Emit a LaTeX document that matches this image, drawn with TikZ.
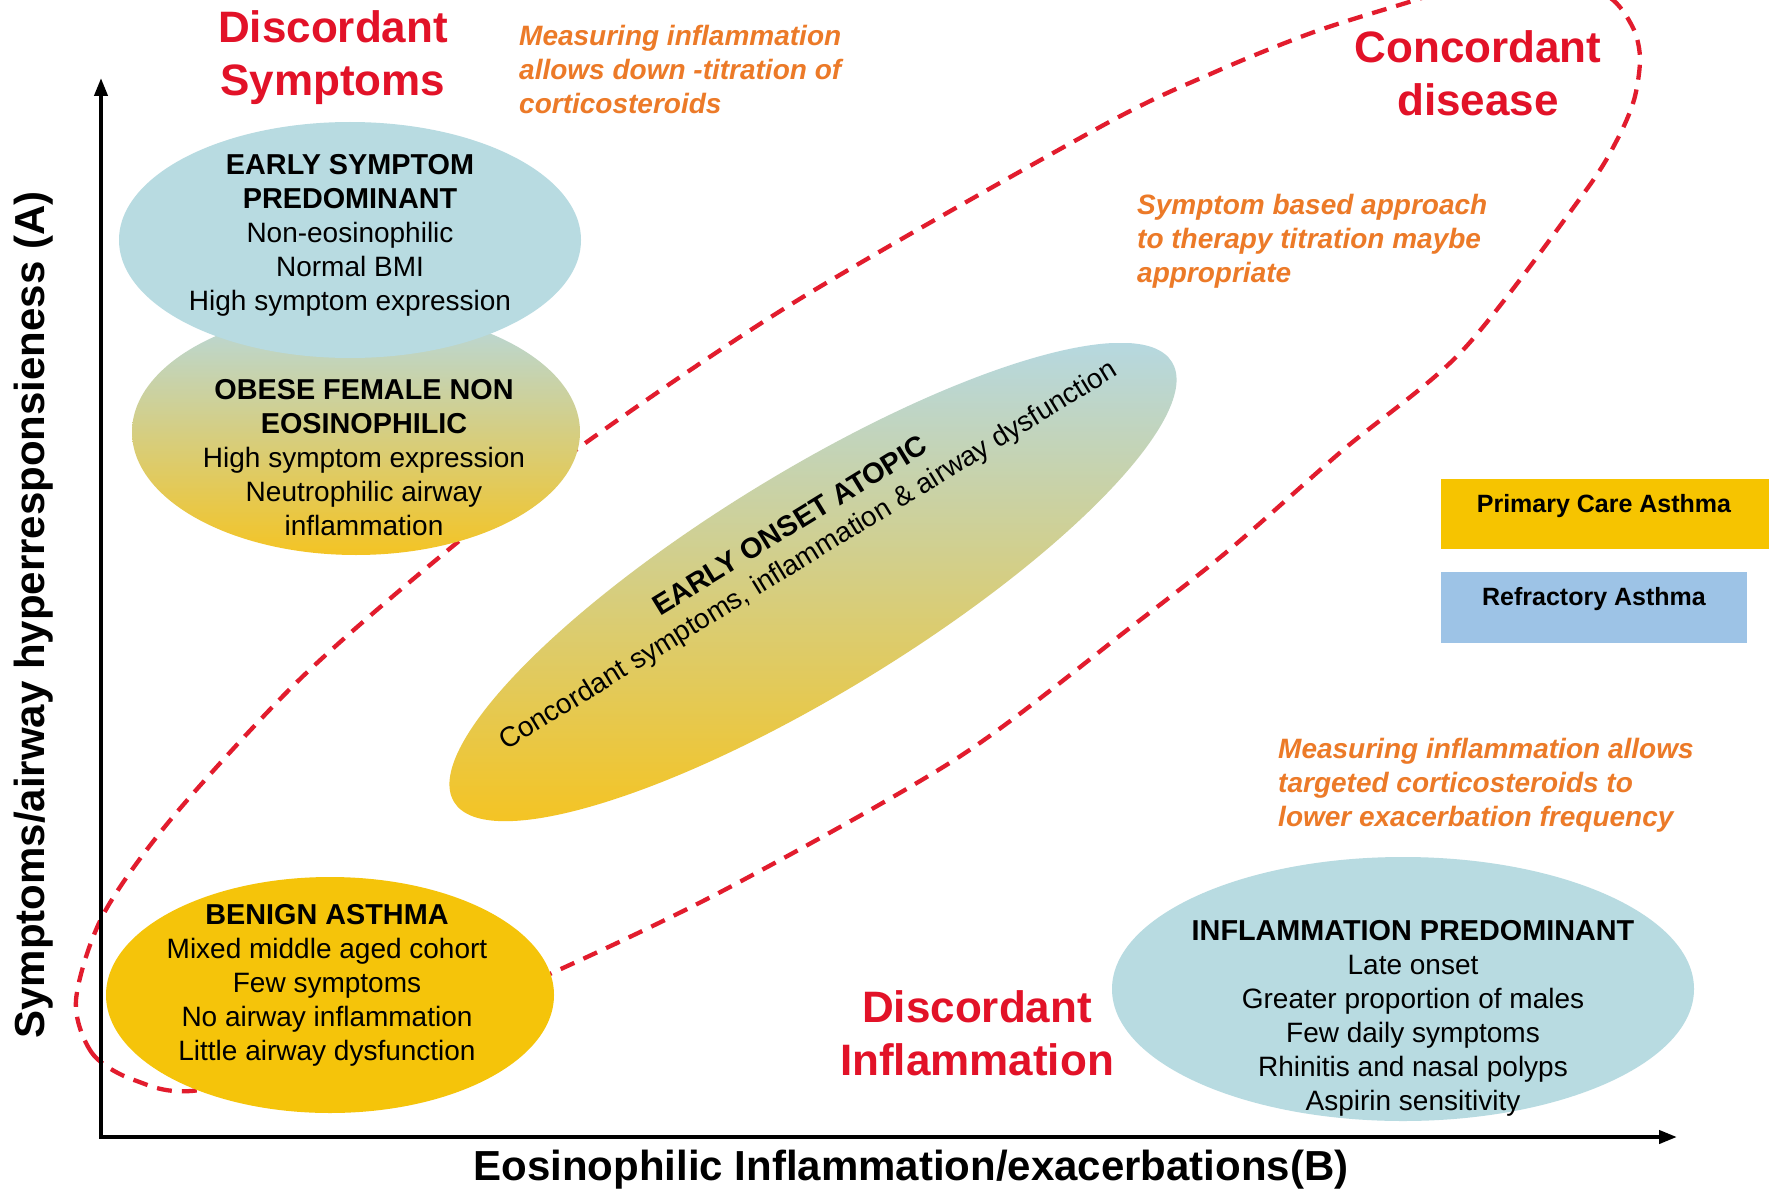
\documentclass[tikz,border=0pt]{standalone}
\usepackage{fontspec}
\setmainfont{Liberation Sans}
\usetikzlibrary{arrows.meta}
\definecolor{ellblue}{RGB}{184,219,225}
\definecolor{ellyellow}{RGB}{245,196,10}
\definecolor{gradtop}{RGB}{182,216,224}
\definecolor{gradbot}{RGB}{244,196,36}
\definecolor{redtxt}{RGB}{226,18,40}
\definecolor{dashred}{RGB}{226,28,45}
\definecolor{orangetxt}{RGB}{236,122,40}
\definecolor{legyellow}{RGB}{246,196,0}
\definecolor{legblue}{RGB}{157,195,230}
\newcommand\myhd[1]{{\bfseries\fontsize{28.8}{34}\selectfont #1}}
\tikzset{
  redhead/.style={font=\bfseries\fontsize{44}{53}\selectfont, text=redtxt, align=center, inner sep=0},
  orangenote/.style={font=\bfseries\itshape\fontsize{28}{34}\selectfont, text=orangetxt, align=left, anchor=west, inner sep=0},
  bodytext/.style={font=\fontsize{28}{34}\selectfont, align=center, inner sep=0},
  legtext/.style={font=\bfseries\fontsize{25}{30}\selectfont, inner sep=0},
  axislabel/.style={font=\bfseries\fontsize{42}{50}\selectfont, inner sep=0},
  dashloop/.style={draw=dashred, line width=4.3pt, dash pattern=on 15pt off 10pt},
  axisline/.style={line width=4pt, {Triangle[length=18pt,width=13pt]}-{Triangle[length=18pt,width=13pt]}},
}
\begin{document}
\begin{tikzpicture}[x=1pt,y=1pt]
\useasboundingbox (0,0) rectangle (1769,-1193);
\fill[white] (0,0) rectangle (1769,-1193);
% dashed loop
\begin{scope}
\clip (0,0) rectangle (1769,-1193);
\draw[dashloop] plot[smooth cycle, tension=0.5] coordinates {
 (76,-1000) (92,-1053) (134,-1080) (200,-1090) (380,-1045) (552,-973) (730,-887)
 (959,-757) (1131,-627) (1229,-550) (1343,-450) (1463,-350) (1584,-193) (1617,-140)
 (1634,-100) (1640,-60) (1634,-30) (1613,0) (1570,22) (1500,25) (1406,-3)
 (1314,-32) (1215,-72) (1100,-127) (798,-300) (584,-444)
 (436,-560) (298,-681) (172,-818) (103,-915)};
\end{scope}
% ellipses
\shade[top color=gradtop, bottom color=gradbot] (356,-432) ellipse (224 and 123);
\fill[ellblue] (350,-240) ellipse (231 and 118);
\fill[ellyellow] (330,-995) ellipse (224 and 118);
\fill[ellblue] (1403,-989) ellipse (291 and 132);
\begin{scope}
\clip[rotate around={31.5:(813,-582)}] (813,-582) ellipse (421 and 110);
\shade[top color=gradtop, bottom color=gradbot] (440,-343) rectangle (1190,-821);
\end{scope}
% legend boxes
\fill[legyellow] (1441,-479) rectangle (1769,-549);
\fill[legblue] (1441,-572) rectangle (1747,-643);
\node[legtext] (lg1) at (1604,-506) {Primary Care Asthma};
\node[legtext] (lg2) at (1594,-599) {Refractory Asthma};
% headings
\node[redhead] (dsym) at (333,-58) {Discordant\\Symptoms};
\node[redhead] (cdis) at (1478,-73) {Concordant\\disease};
\node[redhead] (dinf) at (977,-1033) {Discordant\\Inflammation};
% notes
\node[orangenote] (note1) at (519,-70) {Measuring inflammation\\allows down -titration of\\corticosteroids};
\node[orangenote] (note2) at (1137,-241) {Symptom based approach\\to therapy titration maybe\\appropriate};
\node[orangenote] (note3) at (1278,-785) {Measuring inflammation allows\\targeted corticosteroids to\\lower exacerbation frequency};
% ellipse texts
\node[bodytext] (tearly) at (350,-235) {\myhd{EARLY SYMPTOM}\\\myhd{PREDOMINANT}\\Non-eosinophilic\\Normal BMI\\High symptom expression};
\node[bodytext] (tobese) at (364,-458) {\myhd{OBESE FEMALE NON}\\\myhd{EOSINOPHILIC}\\High symptom expression\\Neutrophilic airway\\inflammation};
\node[bodytext] (tbenign) at (327,-985) {\myhd{BENIGN ASTHMA}\\Mixed middle aged cohort\\Few symptoms\\No airway inflammation\\Little airway dysfunction};
\node[bodytext] (tinfl) at (1413,-1018) {\myhd{INFLAMMATION PREDOMINANT}\\Late onset\\Greater proportion of males\\Few daily symptoms\\Rhinitis and nasal polyps\\Aspirin sensitivity};
\node[bodytext, rotate=31.5] (tatopic) at (800,-542) {\myhd{EARLY ONSET ATOPIC}\\Concordant symptoms, inflammation \& airway dysfunction};
% axes
\coordinate (O) at (101,-1137);
\coordinate (ytip) at (101,-78);
\coordinate (xtip) at (1677,-1137);
\draw[axisline] (ytip) -- (O) -- (xtip);
\node[axislabel] (xlab) at (911,-1170) {Eosinophilic Inflammation/exacerbations(B)};
\node[axislabel, rotate=90] (ylab) at (34,-615) {Symptoms/airway hyperresponsieness (A)};
\end{tikzpicture}
\end{document}
